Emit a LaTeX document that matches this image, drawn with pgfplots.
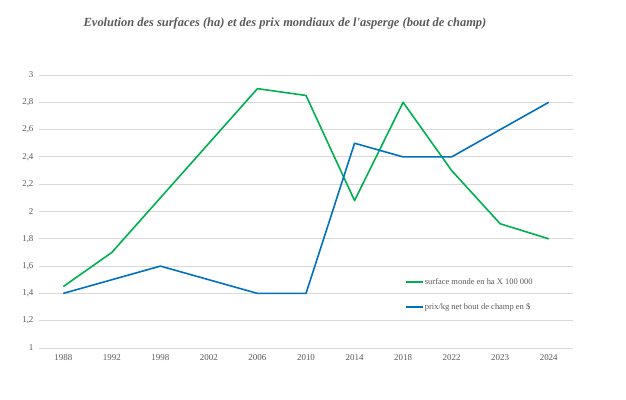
\documentclass[border=0pt]{standalone}
\usepackage{pgfplots}
\pgfplotsset{compat=1.18}
\usepackage{fontspec}
\setmainfont{Liberation Serif}
\newfontfamily\titlefont{Liberation Serif}[Ligatures=TeXOff]
\definecolor{cgreen}{HTML}{00B050}
\definecolor{cblue}{HTML}{0070C0}
\definecolor{cgrid}{HTML}{D9D9D9}
\definecolor{ctext}{HTML}{595959}
\begin{document}
\begin{tikzpicture}[x=1bp,y=1bp]
\useasboundingbox (0,0) rectangle (626,399);
\node[font=\titlefont\fontsize{12.5}{14}\selectfont\bfseries\itshape, text=ctext] at (285,376) {Evolution des surfaces (ha) et des prix mondiaux de l'asperge (bout de champ)};
\begin{axis}[
  at={(39bp,51bp)}, anchor=south west,
  scale only axis, width=534bp, height=273bp,
  xmin=-0.5, xmax=10.5, ymin=1, ymax=3,
  xtick={0,...,10},
  xticklabels={1988,1992,1998,2002,2006,2010,2014,2018,2022,2023,2024},
  ytick={1,1.2,...,3.01},
  ymajorgrids, grid style={cgrid, line width=0.9pt},
  axis line style={draw=none},
  major tick length=0pt,
  tick label style={font=\fontsize{9}{10}\selectfont, text=ctext},
  /pgf/number format/assume math mode=true,
  /pgf/number format/use comma,
  /pgf/number format/fixed,
  /pgf/number format/precision=1,
  yticklabel style={xshift=-2bp},
  xticklabel style={yshift=-3bp},
  legend style={at={(0.68,0.27)}, anchor=north west, draw=none, fill=none,
    font=\fontsize{8.5}{9.5}\selectfont, text=ctext, row sep=13bp,
    legend cell align=left, nodes={inner xsep=1bp}},
  legend image code/.code={\draw[#1, line width=1.6pt] (0bp,0bp) -- (17bp,0bp);},
]
\addplot[cgreen, line width=1.6pt, line join=round] coordinates {
(0,1.45) (1,1.70) (2,2.10) (3,2.50) (4,2.90) (5,2.85) (6,2.08) (7,2.80) (8,2.30) (9,1.91) (10,1.80)};
\addlegendentry{surface monde en ha X 100 000}
\addplot[cblue, line width=1.6pt, line join=round] coordinates {
(0,1.40) (1,1.50) (2,1.60) (3,1.50) (4,1.40) (5,1.40) (6,2.50) (7,2.40) (8,2.40) (9,2.60) (10,2.80)};
\addlegendentry{prix/kg net bout de champ en \$}
\end{axis}
\end{tikzpicture}
\end{document}
